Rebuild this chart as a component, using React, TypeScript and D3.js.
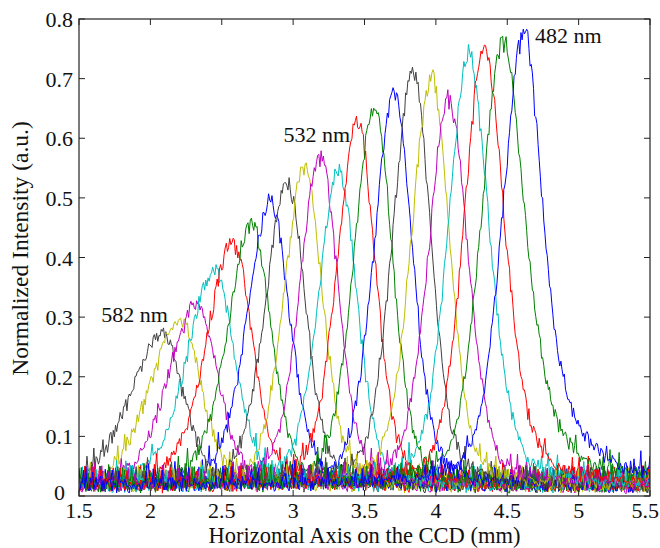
import React from "react";
import * as d3 from "d3";

// 21 spectra recorded on the CCD, 582 nm down to 482 nm in 5 nm steps
const wavelengths = d3.range(582, 481, -5);
const lineColors = ["#404040", "#bfbf00", "#bf00bf", "#00bfbf", "#ff0000", "#008000", "#0000ff"];

// peak position (mm) and peak height (a.u.), left to right
const peakX = [2.08, 2.21, 2.33, 2.45, 2.58, 2.71, 2.84, 2.96, 3.08, 3.19, 3.32,
  3.45, 3.57, 3.71, 3.84, 3.97, 4.09, 4.23, 4.34, 4.47, 4.62];
const peakY = [0.272, 0.297, 0.321, 0.376, 0.424, 0.455, 0.494, 0.527, 0.55, 0.57, 0.544,
  0.628, 0.654, 0.676, 0.71, 0.7, 0.665, 0.74, 0.752, 0.76, 0.778];
// half width at half maximum on each side (mm)
const halfLeft = [0.26, 0.25, 0.24, 0.23, 0.22, 0.2, 0.19, 0.18, 0.17, 0.17, 0.17,
  0.17, 0.17, 0.17, 0.17, 0.17, 0.17, 0.17, 0.17, 0.18, 0.18];
const halfRight = [0.18, 0.17, 0.17, 0.17, 0.16, 0.16, 0.16, 0.15, 0.15, 0.15, 0.15,
  0.15, 0.15, 0.15, 0.15, 0.15, 0.16, 0.17, 0.17, 0.19, 0.16];
// lorentzian share of the right-hand tail
const tailMix = [0.3, 0.3, 0.3, 0.3, 0.3, 0.3, 0.3, 0.3, 0.3, 0.3, 0.3,
  0.3, 0.3, 0.3, 0.3, 0.3, 0.35, 0.4, 0.45, 0.6, 0.85];

// detector noise texture, hand typed
const noiseA = [0.3, -0.8, 0.9, -0.2, 0.6, -1, 0.1, 0.8, -0.5, 0.4, -0.9, 1, -0.3, 0.2, -0.7,
  0.5, 2.6, -0.4, 0.7, -0.1, -0.9, 0.3, 0.9, -0.6, 0.1, -0.3, 0.8, -1, 0.4, 0.6, -0.2,
  -0.7, 1, 0.2, -0.5, 0.5, -0.8, 0.3, 3.1, -0.6, 0.7, -0.2, 0.9, -0.9, 0.2, -0.4, 0.6,
  -0.1, -0.8, 1, 0.4, -0.6, 2.9, 0.8, -0.3, -1, 0.5, 0.1, 2.2, -0.5, 0.7];
const noiseB = [-0.4, 0.6, 0.1, -0.9, 0.8, -0.2, 0.5, -0.7, 0.3, 1, -0.5, 0.2, -0.1, 0.7,
  -0.8, 0.4, -0.3, 0.9, -0.6, 0.0, 0.6, -1, 0.3, -0.2, 0.8, -0.5, 0.1, 0.5, -0.9, 0.7,
  -0.3, 0.2, 0.9, -0.7, 0.4, -0.1, -0.6, 1, 0.2, -0.4, 0.6, -0.8, 0.3];

const xTicks = [1.5, 2, 2.5, 3, 3.5, 4, 4.5, 5, 5.5];
const yTicks = [0, 0.1, 0.2, 0.3, 0.4, 0.5, 0.6, 0.7, 0.8];
const peakLabels = [
  { text: "582 nm", x: 1.655, y: 0.292, anchor: "start" },
  { text: "532 nm", x: 3.4, y: 0.594, anchor: "end" },
  { text: "482 nm", x: 4.694, y: 0.76, anchor: "start" },
];

const baseLevel = 0.018;

const x = d3.scaleLinear().domain([1.5, 5.5]).range([79, 650]);
const y = d3.scaleLinear().domain([0, 0.8]).range([496, 19]);

function spectrum(c: number): [number, number][] {
  const pts: [number, number][] = [];
  const xs = d3.range(1.5, 5.5001, 0.008);
  const amp = peakY[c] - baseLevel;
  xs.forEach((xv, i) => {
    const d = xv - peakX[c];
    const h = d < 0 ? halfLeft[c] : halfRight[c];
    const q = (d / h) * (d / h);
    const eta = d < 0 ? 0.3 : tailMix[c];
    const f = eta / (1 + q) + (1 - eta) * Math.exp(-Math.LN2 * q);
    const v = baseLevel + amp * f;
    let r = noiseA[(i * 17 + c * 29) % noiseA.length];
    if (r > 1 && v > 0.08) r = 1;
    const r2 = noiseB[(i * 7 + c * 11) % noiseB.length];
    const n = (0.012 + 0.006 * v) * (r * 0.75 + r2 * 0.45);
    pts.push([xv, Math.max(0.001, v + n)]);
  });
  return pts;
}

const font = "'Liberation Serif', 'Times New Roman', serif";

export default function App() {
  const line = d3.line<[number, number]>().x((d) => x(d[0])).y((d) => y(d[1]));
  const series = wavelengths.map((w, c) => ({ w, c, d: line(spectrum(c)) || "" }));
  const [x0, x1] = x.range();
  const [y0, y1] = y.range();
  const lastTick = xTicks[xTicks.length - 1];
  return (
    <svg width={660} height={548} style={{ position: "absolute", left: 0, top: 0, background: "#fff" }}>
      <defs>
        <clipPath id="plotArea">
          <rect x={x0} y={y1} width={x1 - x0} height={y0 - y1} />
        </clipPath>
      </defs>
      <g clipPath="url(#plotArea)">
        {series.map((s) => (
          <path key={s.w} d={s.d} fill="none" stroke={lineColors[s.c % 7]} strokeWidth={1} />
        ))}
      </g>
      <rect x={x0} y={y1} width={x1 - x0} height={y0 - y1} fill="none" stroke="#222" strokeWidth={1.2} />
      {xTicks.map((t) => (
        <g key={"x" + t}>
          <line x1={x(t)} x2={x(t)} y1={y0} y2={y0 - 6} stroke="#222" />
          <line x1={x(t)} x2={x(t)} y1={y1} y2={y1 + 6} stroke="#222" />
          <text
            x={t === lastTick ? 659 : x(t)}
            y={518}
            textAnchor={t === lastTick ? "end" : "middle"}
            fontFamily={font}
            fontSize={22}
            fill="#111"
          >
            {t}
          </text>
        </g>
      ))}
      {yTicks.map((t) => (
        <g key={"y" + t}>
          <line x1={x0} x2={x0 + 6} y1={y(t)} y2={y(t)} stroke="#222" />
          <line x1={x1} x2={x1 - 6} y1={y(t)} y2={y(t)} stroke="#222" />
          <text x={t === 0 ? 65 : 73} y={y(t) + (t === 0 ? 4 : 8)} textAnchor="end" fontFamily={font} fontSize={22} fill="#111">{t}</text>
        </g>
      ))}
      {peakLabels.map((p) => (
        <text key={p.text} x={x(p.x)} y={y(p.y)} textAnchor={p.anchor as any} fontFamily={font} fontSize={22} fill="#111">
          {p.text}
        </text>
      ))}
      <text x={(x0 + x1) / 2} y={542.5} textAnchor="middle" fontFamily={font} fontSize={22.5} fill="#111">
        Horizontal Axis on the CCD (mm)
      </text>
      <text transform={`translate(28,${(y0 + y1) / 2 - 9}) rotate(-90)`} textAnchor="middle" fontFamily={font} fontSize={23.5} fill="#111">
        Normalized Intensity (a.u.)
      </text>
    </svg>
  );
}
